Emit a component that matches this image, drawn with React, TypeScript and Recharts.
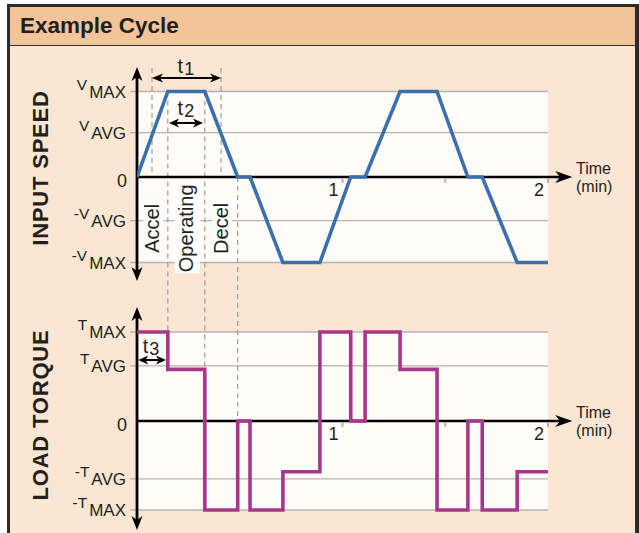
import React from 'react';
import {
  LineChart,
  Line,
  XAxis,
  YAxis,
  ReferenceArea,
  ReferenceLine,
  ReferenceDot,
} from 'recharts';

// one cycle sampled at the corners of the profile (minutes)
const TIME = [0, 0.15, 0.33, 0.49, 0.55, 0.71, 0.89, 1.04, 1.11, 1.28, 1.46, 1.61, 1.68, 1.85, 2];
const SPEED = [0, 1, 1, 0, 0, -1, -1, 0, 0, 1, 1, 0, 0, -1, -1];
// torque is a step function: value holds until the next time
const TORQUE = [1, 0.58, -1, 0, -1, -0.57, 1, 0, 1, 0.58, -1, 0, -1, -0.57, -0.57];

const SPEED_TICKS = [1, 0.52, 0, -0.51, -1];
const SPEED_TICK_LABELS = [['V', 'MAX'], ['V', 'AVG'], ['0', ''], ['-V', 'AVG'], ['-V', 'MAX']];
const TORQUE_TICKS = [1, 0.62, 0, -0.65, -1];
const TORQUE_TICK_LABELS = [['T', 'MAX'], ['T', 'AVG'], ['0', ''], ['-T', 'AVG'], ['-T', 'MAX']];

const TIME_TICKS = [1, 1.5, 2];
const TIME_TICK_LABELS = ['1', '', '2'];

const PHASES = ['Accel', 'Operating', 'Decel'];
const PHASE_MID = [0.075, 0.24, 0.41];

const FONT = '"Liberation Sans", Arial, Helvetica, sans-serif';
const INK = '#231f20';
const GRID = '#b3b3b3';
const DASH = '#9c9c9c';
const BLUE = '#3b6fad';
const MAGENTA = '#a8378b';

// layout (page pixels)
const CHART_TOP = 46;
const PLOT_TOP = 60;
const PLOT_BOTTOM = 528;
const V_ZERO = 177;
const V_UNIT = 85.5;
const T_ZERO = 421;
const T_UNIT = 89;

const speedDomain = [(V_ZERO - PLOT_BOTTOM) / V_UNIT, (V_ZERO - PLOT_TOP) / V_UNIT];
const torqueDomain = [(T_ZERO - PLOT_BOTTOM) / T_UNIT, (T_ZERO - PLOT_TOP) / T_UNIT];
// torque level expressed on the speed axis, for lines that cross both panels
const tToV = (t: number) => (V_ZERO - (T_ZERO - t * T_UNIT)) / V_UNIT;

const speedData = TIME.map((time, i) => ({ time, speed: SPEED[i] }));
const torqueData = TIME.map((time, i) => ({ time, torque: TORQUE[i] }));

function ArrowLine(p: any) {
  const { x1, y1, x2, y2, color = '#000', sw = 2.5, head = 12, spread = 5, start, end } = p;
  const dx = x2 - x1;
  const dy = y2 - y1;
  const len = Math.hypot(dx, dy) || 1;
  const ux = dx / len;
  const uy = dy / len;
  const px = -uy;
  const py = ux;
  const headPts = (tx: number, ty: number, dx1: number, dy1: number) => {
    const bx = tx - dx1 * head;
    const by = ty - dy1 * head;
    const nx = tx - dx1 * head * 0.72;
    const ny = ty - dy1 * head * 0.72;
    return `${tx},${ty} ${bx + px * spread},${by + py * spread} ${nx},${ny} ${bx - px * spread},${by - py * spread}`;
  };
  const sx = start ? x1 + ux * head * 0.7 : x1;
  const sy = start ? y1 + uy * head * 0.7 : y1;
  const ex = end ? x2 - ux * head * 0.7 : x2;
  const ey = end ? y2 - uy * head * 0.7 : y2;
  return (
    <g>
      <line x1={sx} y1={sy} x2={ex} y2={ey} stroke={color} strokeWidth={sw} />
      {start && <polygon points={headPts(x1, y1, -ux, -uy)} fill={color} />}
      {end && <polygon points={headPts(x2, y2, ux, uy)} fill={color} />}
    </g>
  );
}

function TickLabel({ cx, cy, main, sub }: any) {
  if (!sub) {
    return (
      <text x={cx - 10} y={cy + 10} textAnchor="end" fontSize={18} fill={INK} fontFamily={FONT}>
        {main}
      </text>
    );
  }
  return (
    <text x={cx - 11} y={cy + 6} textAnchor="end" fill={INK} fontFamily={FONT}>
      <tspan fontSize={15.5} dy={-8}>{main}</tspan>
      <tspan fontSize={17} dx={2} dy={8}>{sub}</tspan>
    </text>
  );
}

function TLabel({ cx, cy, sub, lift }: any) {
  return (
    <text x={cx} y={cy - lift} textAnchor="middle" fill={INK} fontFamily={FONT}>
      <tspan fontSize={20}>t</tspan>
      <tspan fontSize={18} dx={1} dy={2}>{sub}</tspan>
    </text>
  );
}

function PhaseLabel({ cx, cy, text, len, thick }: any) {
  return (
    <g transform={`rotate(-90 ${cx} ${cy})`}>
      <rect x={cx - len / 2} y={cy - thick / 2 + 1} width={len} height={thick} fill="#ffffff" />
      <text x={cx} y={cy + 7} textAnchor="middle" fontSize={20} fill={INK} fontFamily={FONT}>
        {text}
      </text>
    </g>
  );
}

function TimeTick({ cx, cy, label }: any) {
  return (
    <g>
      <line x1={cx} y1={cy + 1} x2={cx} y2={cy + 6} stroke={GRID} strokeWidth={2} />
      <text x={cx - 4} y={cy + 19} textAnchor="end" fontSize={18} fill={INK} fontFamily={FONT}>
        {label}
      </text>
    </g>
  );
}

function TimeName({ cx, cy }: any) {
  return (
    <g>
      <text x={cx + 28} y={cy - 3} fontSize={16} fill={INK} fontFamily={FONT}>Time</text>
      <text x={cx + 28} y={cy + 15} fontSize={16} fill={INK} fontFamily={FONT}>(min)</text>
    </g>
  );
}

function PanelName({ cx, cy, text, shift }: any) {
  const x = cx - 97;
  const y = cy + shift;
  return (
    <text
      x={x}
      y={y}
      transform={`rotate(-90 ${x} ${y})`}
      textAnchor="middle"
      dominantBaseline="central"
      fontSize={22}
      fontWeight="bold"
      letterSpacing={0.8}
      fill={INK}
      fontFamily={FONT}
    >
      {text}
    </text>
  );
}

function panel(id: 'v' | 't', ticks: number[], labels: string[][], axisTop: number, axisBottom: number) {
  return [
    <ReferenceArea key={id + 'bg'} yAxisId={id} x1={0} x2={2} y1={-1} y2={1} fill="#fffcf8" fillOpacity={1} stroke="none" ifOverflow="visible" zIndex={-200} />,
    ...ticks
      .filter((v) => v !== 0)
      .map((v) => (
        <ReferenceLine
          key={id + 'g' + v}
          yAxisId={id}
          segment={[{ x: -0.034, y: v }, { x: 2, y: v }]}
          stroke={GRID}
          strokeWidth={1.3}
          ifOverflow="visible"
          zIndex={-150}
        />
      )),
    ...ticks.map((v, i) => (
      <ReferenceDot
        key={id + 'l' + v}
        yAxisId={id}
        x={0}
        y={v}
        r={0}
        ifOverflow="visible"
        shape={(p: any) => <TickLabel cx={p.cx} cy={p.cy} main={labels[i][0]} sub={labels[i][1]} />}
      />
    )),
    ...TIME_TICKS.map((t, i) => (
      <ReferenceDot
        key={id + 'x' + t}
        yAxisId={id}
        x={t}
        y={0}
        r={0}
        ifOverflow="visible"
        shape={(p: any) => <TimeTick cx={p.cx} cy={p.cy} label={TIME_TICK_LABELS[i]} />}
      />
    )),
    <ReferenceDot key={id + 'tn'} yAxisId={id} x={2} y={0} r={0} ifOverflow="visible" shape={(p: any) => <TimeName cx={p.cx} cy={p.cy} />} />,
    <ReferenceLine
      key={id + 'xa'}
      yAxisId={id}
      segment={[{ x: 0, y: 0 }, { x: 2.118, y: 0 }]}
      ifOverflow="visible"
      shape={(p: any) => <ArrowLine {...p} end sw={2.6} head={17} spread={6} />}
    />,
    <ReferenceLine
      key={id + 'ya'}
      yAxisId={id}
      segment={[{ x: 0, y: axisTop }, { x: 0, y: axisBottom }]}
      ifOverflow="visible"
      shape={(p: any) => <ArrowLine {...p} start end sw={2.8} head={14} spread={5.5} />}
    />,
  ];
}

export default function App() {
  return (
    <div style={{ position: 'fixed', left: 0, top: 0, width: 639, height: 533, background: '#ffffff', overflow: 'hidden', fontFamily: FONT }}>
      <div
        style={{
          position: 'absolute',
          left: 7,
          top: 4,
          right: 0,
          bottom: -10,
          borderLeft: '3px solid #2e2b29',
          borderTop: '3px solid #2e2b29',
          borderRight: '4px solid #2e2b29',
          background: '#fae6d2',
        }}
      >
        <div
          style={{
            height: 38,
            background: '#f2c497',
            borderBottom: '1.5px solid #3a3533',
            paddingLeft: 10,
            fontSize: 22.5,
            fontWeight: 'bold',
            lineHeight: '38px',
            color: INK,
          }}
        >
          Example Cycle
        </div>
      </div>
      <div style={{ position: 'absolute', left: 0, top: CHART_TOP }}>
        <LineChart width={639} height={533 - CHART_TOP} margin={{ top: PLOT_TOP - CHART_TOP, right: 91, bottom: 533 - PLOT_BOTTOM, left: 137 }}>
          <XAxis type="number" dataKey="time" domain={[0, 2]} hide allowDataOverflow />
          <YAxis yAxisId="v" type="number" domain={speedDomain} hide allowDataOverflow />
          <YAxis yAxisId="t" type="number" domain={torqueDomain} hide allowDataOverflow />

          {panel('v', SPEED_TICKS, SPEED_TICK_LABELS, 1.287, -1.216)}
          {panel('t', TORQUE_TICKS, TORQUE_TICK_LABELS, 1.281, -1.225)}

          {/* phase guides */}
          <ReferenceLine yAxisId="v" segment={[{ x: 0.073, y: 1.275 }, { x: 0.073, y: 0 }]} stroke={DASH} strokeDasharray="5 4" strokeWidth={1.2} ifOverflow="visible" zIndex={-150} />
          <ReferenceLine yAxisId="v" segment={[{ x: 0.409, y: 1.275 }, { x: 0.409, y: 0 }]} stroke={DASH} strokeDasharray="5 4" strokeWidth={1.2} ifOverflow="visible" zIndex={-150} />
          <ReferenceLine yAxisId="v" segment={[{ x: TIME[1], y: 1 }, { x: TIME[1], y: tToV(TORQUE[0]) }]} stroke={DASH} strokeDasharray="5 4" strokeWidth={1.2} ifOverflow="visible" zIndex={-150} />
          <ReferenceLine yAxisId="v" segment={[{ x: TIME[2], y: 1 }, { x: TIME[2], y: tToV(TORQUE[1]) }]} stroke={DASH} strokeDasharray="5 4" strokeWidth={1.2} ifOverflow="visible" zIndex={-150} />
          <ReferenceLine yAxisId="v" segment={[{ x: TIME[3], y: 0 }, { x: TIME[3], y: tToV(TORQUE[3]) }]} stroke={DASH} strokeDasharray="5 4" strokeWidth={1.2} ifOverflow="visible" zIndex={-150} />

          {PHASES.map((name, i) => (
            <ReferenceDot
              key={name}
              yAxisId="v"
              x={PHASE_MID[i]}
              y={-0.6}
              r={0}
              ifOverflow="visible"
              zIndex={-120}
              shape={(p: any) => (
                <PhaseLabel cx={p.cx} cy={p.cy} text={name} len={[60, 90, 56][i]} thick={[20, 25, 20][i]} />
              )}
            />
          ))}

          <ReferenceDot yAxisId="v" x={0} y={0} r={0} ifOverflow="visible" shape={(p: any) => <PanelName cx={p.cx} cy={p.cy} text="INPUT SPEED" shift={-9} />} />
          <ReferenceDot yAxisId="t" x={0} y={0} r={0} ifOverflow="visible" shape={(p: any) => <PanelName cx={p.cx} cy={p.cy} text="LOAD TORQUE" shift={-6} />} />

          <Line yAxisId="v" data={speedData} dataKey="speed" type="linear" stroke={BLUE} strokeWidth={3.6} dot={false} activeDot={false} isAnimationActive={false} />
          <Line yAxisId="t" data={torqueData} dataKey="torque" type="stepAfter" stroke={MAGENTA} strokeWidth={3.6} dot={false} activeDot={false} isAnimationActive={false} />

          {/* t1, t2, t3 spans */}
          <ReferenceLine yAxisId="v" segment={[{ x: 0.073, y: 1.158 }, { x: 0.409, y: 1.158 }]} ifOverflow="visible" shape={(p: any) => <ArrowLine {...p} start end sw={2} head={11} spread={4.5} />} />
          <ReferenceDot yAxisId="v" x={0.238} y={1.158} r={0} ifOverflow="visible" shape={(p: any) => <TLabel cx={p.cx} cy={p.cy} sub="1" lift={5} />} />
          <ReferenceLine yAxisId="v" segment={[{ x: 0.156, y: 0.632 }, { x: 0.321, y: 0.632 }]} ifOverflow="visible" shape={(p: any) => <ArrowLine {...p} start end sw={2} head={10} spread={4.5} />} />
          <ReferenceDot yAxisId="v" x={0.238} y={0.632} r={0} ifOverflow="visible" shape={(p: any) => <TLabel cx={p.cx} cy={p.cy} sub="2" lift={8} />} />
          <ReferenceLine yAxisId="t" segment={[{ x: 0.006, y: 0.685 }, { x: 0.141, y: 0.685 }]} ifOverflow="visible" shape={(p: any) => <ArrowLine {...p} start end sw={2} head={10} spread={4.5} />} />
          <ReferenceDot yAxisId="t" x={0.068} y={0.685} r={0} ifOverflow="visible" shape={(p: any) => <TLabel cx={p.cx} cy={p.cy} sub="3" lift={7} />} />
        </LineChart>
      </div>
    </div>
  );
}
